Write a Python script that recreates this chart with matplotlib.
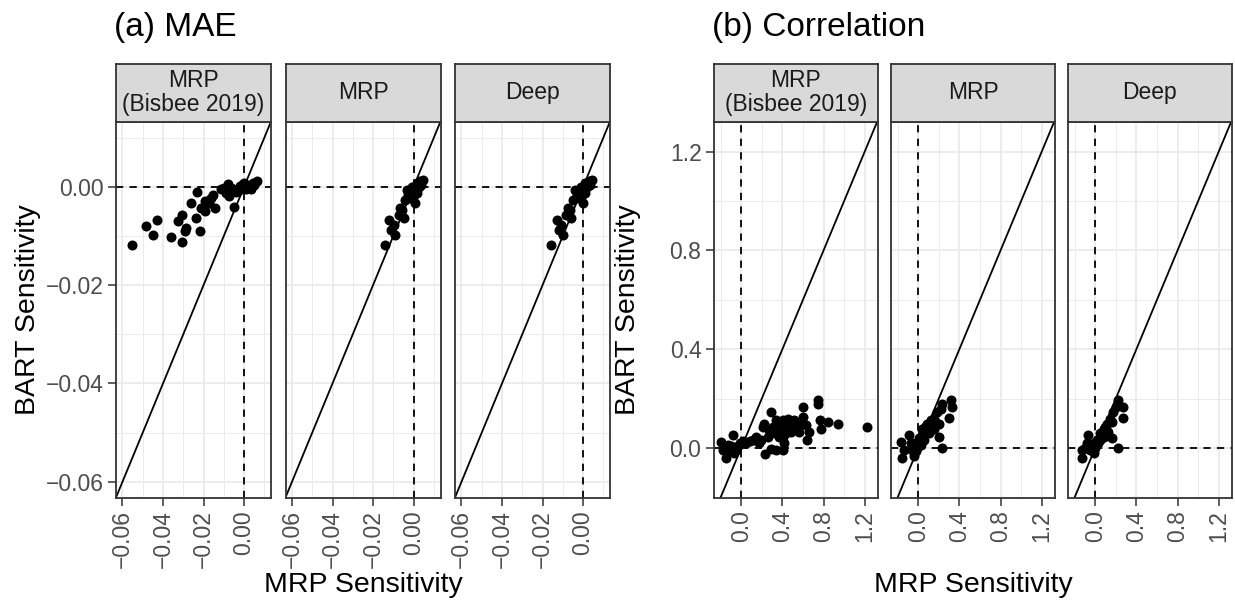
import matplotlib
matplotlib.use('Agg')
import matplotlib.pyplot as plt

plt.rcParams['font.family'] = ['Liberation Sans', 'DejaVu Sans']

# ---- data -------------------------------------------------------------
facet_names = ["MRP\n(Bisbee 2019)", "MRP", "Deep"]

# (a) MAE
mae_ticks = [-0.06, -0.04, -0.02, 0.00]
mae_ticklabels = ["\u22120.06", "\u22120.04", "\u22120.02", "0.00"]
mae_lims = (-0.0632, 0.0133)

mae_bisbee_x = [-0.0553, -0.0484, -0.0430, -0.0450, -0.0360, -0.0307, -0.0327, -0.0305,
                -0.0291, -0.0286, -0.0264, -0.0230, -0.0236, -0.0215, -0.0212, -0.0191,
                -0.0191, -0.0171, -0.0154, -0.0143, -0.0163, -0.0113, -0.0080, -0.0089,
                -0.0072, -0.0048, -0.0056, -0.0031, -0.0007, 0.0010, 0.0026, 0.0043,
                0.0064, 0.0033, -0.0015, -0.0097, -0.0064, 0.0000, 0.0015, -0.0040,
                0.0050, -0.0020]
mae_bisbee_y = [-0.0118, -0.0079, -0.0067, -0.0098, -0.0102, -0.0112, -0.0069, -0.0057,
                -0.0089, -0.0084, -0.0033, -0.0010, -0.0063, -0.0089, -0.0043, -0.0050,
                -0.0029, -0.0033, -0.0016, -0.0043, -0.0022, -0.0005, 0.0005, -0.0012,
                -0.0019, -0.0040, -0.0005, -0.0009, 0.0005, -0.0005, 0.0001, 0.0008,
                0.0011, -0.0005, -0.0002, -0.0002, -0.0002, 0.0008, 0.0003, -0.0010,
                0.0004, 0.0002]

mae_mrp_x = [-0.0140, -0.0120, -0.0110, -0.0091, -0.0098, -0.0074, -0.0049, -0.0066,
             -0.0041, -0.0025, -0.0033, -0.0008, 0.0008, 0.0016, 0.0033, 0.0049,
             0.0005, -0.0017, -0.0008, 0.0025, 0.0038, 0.0000, 0.0016, -0.0058]
mae_mrp_y = [-0.0118, -0.0068, -0.0087, -0.0097, -0.0077, -0.0057, -0.0063, -0.0043,
             -0.0026, -0.0016, -0.0006, -0.0009, -0.0002, 0.0008, 0.0011, 0.0013,
             -0.0033, -0.0022, 0.0000, 0.0000, 0.0003, -0.0016, -0.0013, -0.0047]

mae_deep_x = [-0.0160, -0.0127, -0.0120, -0.0100, -0.0108, -0.0082, -0.0058, -0.0074,
              -0.0050, -0.0032, -0.0038, -0.0012, 0.0004, 0.0012, 0.0028, 0.0046,
              0.0000, -0.0022, -0.0012, 0.0020, 0.0034, -0.0005, 0.0012, -0.0066]
mae_deep_y = [-0.0118, -0.0068, -0.0087, -0.0097, -0.0077, -0.0057, -0.0063, -0.0043,
              -0.0026, -0.0016, -0.0006, -0.0009, -0.0002, 0.0008, 0.0011, 0.0013,
              -0.0033, -0.0022, 0.0000, 0.0000, 0.0003, -0.0016, -0.0013, -0.0047]

# (b) Correlation
cor_ticks = [0.0, 0.4, 0.8, 1.2]
cor_ticklabels = ["0.0", "0.4", "0.8", "1.2"]
cor_xlims = (-0.264, 1.329)
cor_ylims = (-0.167, 1.322)

cor_bisbee_x = [-0.193, -0.146, -0.178, -0.081, -0.097, -0.049, -0.016, 0.015, 0.049, 0.112,
                0.146, 0.177, 0.209, 0.226, 0.290, 0.274, 0.306, 0.339, 0.354, 0.371,
                0.235, 0.290, 0.339, 0.403, 0.419, 0.436, 0.451, 0.485, 0.516, 0.533,
                0.565, 0.597, 0.597, 0.629, 0.635, 0.662, 0.743, 0.743, 0.765, 0.775,
                0.839, 0.936, 1.220, 0.371, 0.403, 0.451, 0.485, 0.381, 0.324, 0.257,
                0.190, 0.081, -0.113, -0.129, -0.065, -0.032, 0.403, 0.500, 0.565, 0.436]
cor_bisbee_y = [0.024, -0.040, -0.007, 0.053, 0.007, -0.007, 0.020, 0.027, 0.020, 0.033,
                0.046, 0.020, 0.086, 0.099, 0.146, 0.073, 0.086, 0.112, 0.073, 0.046,
                -0.023, -0.004, -0.007, -0.007, 0.020, 0.060, 0.119, 0.099, 0.112, 0.079,
                0.092, 0.165, 0.126, 0.092, 0.033, 0.066, 0.194, 0.179, 0.112, 0.079,
                0.106, 0.099, 0.086, 0.099, 0.112, 0.079, 0.066, 0.079, 0.060, 0.046,
                0.033, 0.027, -0.013, 0.013, -0.020, 0.007, 0.046, 0.073, 0.066, 0.092]

cor_mrp_x = [-0.170, -0.155, -0.090, -0.139, -0.058, -0.042, -0.025, 0.007, 0.039, 0.071,
             0.088, 0.120, 0.152, 0.184, 0.217, 0.232, 0.314, 0.324, 0.297, 0.200,
             0.232, 0.152, 0.104, 0.055, 0.023, -0.010, -0.074, 0.136, 0.168, 0.200,
             0.120, 0.071, 0.039, -0.026, -0.058]
cor_mrp_y = [0.024, -0.040, 0.053, -0.007, -0.007, -0.033, 0.020, 0.040, 0.079, 0.066,
             0.099, 0.112, 0.119, 0.146, 0.159, 0.179, 0.194, 0.165, 0.123, 0.044,
             0.000, 0.079, 0.060, 0.033, 0.013, 0.000, 0.020, 0.092, 0.106, 0.099,
             0.073, 0.086, 0.053, -0.013, 0.020]

cor_deep_x = [-0.129, -0.129, -0.065, -0.081, -0.032, -0.016, 0.016, 0.048, 0.081, 0.113,
              0.146, 0.177, 0.200, 0.226, 0.268, 0.268, 0.220, 0.162, 0.129, 0.081,
              0.032, 0.000, -0.049, 0.095, 0.162, 0.048, -0.095, -0.016]
cor_deep_y = [-0.007, -0.040, 0.053, 0.020, 0.007, -0.020, 0.033, 0.060, 0.079, 0.099,
              0.119, 0.146, 0.165, 0.194, 0.165, 0.123, 0.000, 0.040, 0.066, 0.046,
              0.020, 0.000, -0.007, 0.086, 0.106, 0.033, 0.000, 0.020]

# ---- layout (pixels) ---------------------------------------------------
W, H = 1235, 605
fig = plt.figure(figsize=(W / 100, H / 100), dpi=100)

PANEL_TOP, PANEL_BOT, STRIP_TOP = 121.5, 497.5, 64
BORDER = '#333333'
GRID = '#EBEBEB'


def px_axes(left, top, width, height):
    return fig.add_axes([left / W, (H - top - height) / H, width / W, height / H])


def draw_facet(left, width, name, xs, ys, xlims, ylims, ticks, ticklabels,
               minor, show_y):
    ax = px_axes(left, PANEL_TOP, width, PANEL_BOT - PANEL_TOP)
    ax.set_xlim(*xlims)
    ax.set_ylim(*ylims)
    ax.set_xticks(ticks)
    ax.set_xticklabels(ticklabels, rotation=90)
    ax.set_yticks(ticks)
    ax.set_yticklabels(ticklabels)
    ax.set_xticks(minor, minor=True)
    ax.set_yticks(minor, minor=True)
    ax.grid(which='major', color=GRID, lw=1.3)
    ax.grid(which='minor', color=GRID, lw=0.7)
    ax.tick_params(which='minor', length=0)
    ax.tick_params(which='major', length=5.5, width=1.1, color=BORDER,
                   labelsize=16.5, labelcolor='#4D4D4D', pad=3.5)
    if not show_y:
        ax.tick_params(axis='y', which='both', left=False, labelleft=False)
    ax.set_axisbelow(True)
    for s in ax.spines.values():
        s.set_color(BORDER)
        s.set_linewidth(1.3)
        s.set_zorder(5)

    ax.axhline(0, color='black', lw=1.3, ls=(0, (4, 3.5)), zorder=2)
    ax.axvline(0, color='black', lw=1.3, ls=(0, (4, 3.5)), zorder=2)
    ax.axline((0, 0), slope=1, color='black', lw=1.3, zorder=2)
    ax.scatter(xs, ys, s=52, color='black', linewidths=0, zorder=3, clip_on=False)

    sax = px_axes(left, STRIP_TOP, width, PANEL_TOP - STRIP_TOP)
    sax.set_facecolor('#D9D9D9')
    sax.set_xticks([])
    sax.set_yticks([])
    for s in sax.spines.values():
        s.set_color(BORDER)
        s.set_linewidth(1.3)
    sax.text(0.5, 0.5, name, ha='center', va='center', fontsize=16.5,
             color='#1A1A1A', linespacing=1.05, transform=sax.transAxes)
    return ax


mae_data = [(mae_bisbee_x, mae_bisbee_y), (mae_mrp_x, mae_mrp_y), (mae_deep_x, mae_deep_y)]
mae_minor = [-0.05, -0.03, -0.01, 0.01]
for i, (left, (xs, ys)) in enumerate(zip([116, 285.5, 455], mae_data)):
    draw_facet(left, 155, facet_names[i], xs, ys, mae_lims, mae_lims,
               mae_ticks, mae_ticklabels, mae_minor, i == 0)

cor_data = [(cor_bisbee_x, cor_bisbee_y), (cor_mrp_x, cor_mrp_y), (cor_deep_x, cor_deep_y)]
cor_minor = [-0.2, 0.2, 0.6, 1.0]
for i, (left, (xs, ys)) in enumerate(zip([714, 891, 1068], cor_data)):
    draw_facet(left, 164, facet_names[i], xs, ys, cor_xlims, cor_ylims,
               cor_ticks, cor_ticklabels, cor_minor, i == 0)


# titles and axis labels
def fig_text(x, y, s, **kw):
    fig.text(x / W, 1 - y / H, s, **kw)


fig_text(114, 36, "(a) MAE", fontsize=24, ha='left', va='baseline')
fig_text(712, 36, "(b) Correlation", fontsize=24, ha='left', va='baseline')
fig_text(28, 309.5, "BART Sensitivity", fontsize=20.5, rotation=90, ha='center', va='center')
fig_text(628, 309.5, "BART Sensitivity", fontsize=20.5, rotation=90, ha='center', va='center')
fig_text(363, 585, "MRP Sensitivity", fontsize=20.5, ha='center', va='center')
fig_text(973, 585, "MRP Sensitivity", fontsize=20.5, ha='center', va='center')

fig.savefig('out.png', dpi=100)
